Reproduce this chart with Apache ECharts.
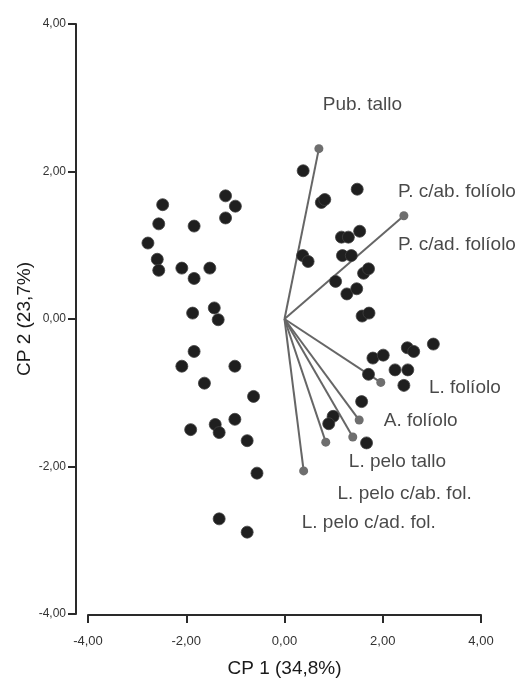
<!DOCTYPE html>
<html>
<head>
<meta charset="utf-8">
<script src="https://cdn.jsdelivr.net/npm/echarts@6/dist/echarts.min.js"></script>
<style>
html,body{margin:0;padding:0;background:#fff;}
#chart{width:520px;height:683px;}
</style>
</head>
<body>
<div id="chart"></div>
<script>
// Scores (observations) on CP1 / CP2
var scoreX = [-2.48,-2.56,-2.78,-2.59,-2.56,-1.84,-1.20,-1.00,-1.20,-2.09,-1.84,-1.52,-1.87,-1.43,-1.35,
  -1.84,-2.09,-1.01,-1.63,-0.63,-1.91,-1.41,-1.33,-1.01,-0.76,-0.56,-1.33,-0.76,
  0.38,1.48,0.75,0.82,1.16,1.30,1.53,1.18,1.36,0.37,0.48,1.61,1.71,1.04,1.27,1.47,1.58,1.72,
  2.50,2.63,3.03,1.80,2.01,2.25,2.51,1.71,2.43,1.57,0.99,0.90,1.67];
var scoreY = [1.55,1.29,1.03,0.81,0.66,1.26,1.67,1.53,1.37,0.69,0.55,0.69,0.08,0.15,-0.01,
  -0.44,-0.64,-0.64,-0.87,-1.05,-1.50,-1.43,-1.54,-1.36,-1.65,-2.09,-2.71,-2.89,
  2.01,1.76,1.58,1.62,1.11,1.11,1.19,0.86,0.86,0.86,0.78,0.62,0.68,0.51,0.34,0.41,0.04,0.08,
  -0.39,-0.44,-0.34,-0.53,-0.49,-0.69,-0.69,-0.75,-0.90,-1.12,-1.32,-1.42,-1.68];

// Variable loadings (vectors)
var vectorNames = ['Pub. tallo','P. c/ab. folíolo','L. folíolo','A. folíolo','L. pelo tallo','L. pelo c/ab. fol.','L. pelo c/ad. fol.'];
var vectorX = [0.70, 2.43, 1.96, 1.52, 1.39, 0.84, 0.39];
var vectorY = [2.31, 1.40, -0.86, -1.37, -1.60, -1.67, -2.06];

// Variable labels
var labelNames = ['Pub. tallo','P. c/ab. folíolo','P. c/ad. folíolo','L. folíolo','A. folíolo','L. pelo tallo','L. pelo c/ab. fol.','L. pelo c/ad. fol.'];

// Tick labels
var tickValues = [-4, -2, 0, 2, 4];

// label anchor placement (layout, in axis units)
var labelAnchorX = [0.78, 2.31, 2.31, 2.94, 2.02, 1.31, 1.08, 0.35];
var labelAnchorY = [2.91, 1.72, 1.01, -0.93, -1.38, -1.93, -2.37, -2.76];

function fmt(v){ return v.toFixed(2).replace('.', ','); }

var chart = echarts.init(document.getElementById('chart'), null, {renderer:'canvas'});

var series = [];
for (var i = 0; i < vectorNames.length; i++) {
  series.push({
    type: 'line',
    name: vectorNames[i],
    z: 2,
    silent: true,
    animation: false,
    lineStyle: {color: '#666666', width: 2},
    itemStyle: {color: '#6e6e6e', opacity: 1},
    data: [
      {value: [0, 0], symbol: 'none'},
      {value: [vectorX[i], vectorY[i]], symbol: 'circle', symbolSize: 9}
    ]
  });
}
var pts = [];
for (var j = 0; j < scoreX.length; j++) pts.push([scoreX[j], scoreY[j]]);
series.push({
  type: 'scatter',
  z: 3,
  animation: false,
  symbolSize: 12,
  itemStyle: {color: '#1f1f1f', borderColor: '#404040', borderWidth: 0.8, opacity: 1},
  data: pts
});
var lbl = [];
for (var k = 0; k < labelNames.length; k++) lbl.push({name: labelNames[k], value: [labelAnchorX[k], labelAnchorY[k]]});
series.push({
  type: 'scatter',
  z: 4,
  animation: false,
  symbolSize: 0,
  itemStyle: {color: 'transparent'},
  label: {
    show: true,
    position: 'right',
    distance: 0,
    formatter: '{b}',
    color: '#1a1a1a',
    fontSize: 19,
    fontFamily: 'Liberation Sans, Arial, sans-serif'
  },
  data: lbl
});

chart.setOption({
  animation: false,
  backgroundColor: '#ffffff',
  grid: {left: 88, right: 39, top: 24, bottom: 68},
  xAxis: {
    type: 'value', min: -4, max: 4, interval: 2,
    offset: 1,
    name: 'CP 1 (34,8%)',
    nameLocation: 'middle',
    nameGap: 44,
    nameTextStyle: {fontSize: 19, color: '#1a1a1a', fontFamily: 'Liberation Sans, Arial, sans-serif'},
    axisLine: {show: true, onZero: false, lineStyle: {color: '#2a2a2a', width: 2}},
    axisTick: {show: true, inside: false, length: 8, lineStyle: {color: '#2a2a2a', width: 2}},
    axisLabel: {formatter: fmt, fontSize: 13, color: '#333', margin: 20, fontFamily: 'Liberation Sans, Arial, sans-serif'},
    splitLine: {show: false}
  },
  yAxis: {
    type: 'value', min: -4, max: 4, interval: 2,
    offset: 12,
    name: 'CP 2 (23,7%)',
    nameLocation: 'middle',
    nameGap: 42,
    nameMoveOverlap: false,
    nameRotate: 90,
    nameTextStyle: {fontSize: 19, color: '#1a1a1a', fontFamily: 'Liberation Sans, Arial, sans-serif'},
    axisLine: {show: true, onZero: false, lineStyle: {color: '#2a2a2a', width: 2}},
    axisTick: {show: true, inside: false, length: 8, lineStyle: {color: '#2a2a2a', width: 2}},
    axisLabel: {formatter: fmt, fontSize: 12, color: '#333', margin: 10, fontFamily: 'Liberation Sans, Arial, sans-serif'},
    splitLine: {show: false}
  },
  series: series
});
</script>
</body>
</html>
